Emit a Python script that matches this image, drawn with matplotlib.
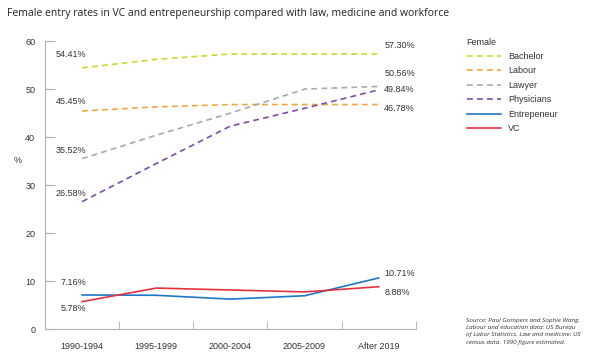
import matplotlib.pyplot as plt
from matplotlib.ticker import FixedLocator

periods = ['1990-1994', '1995-1999', '2000-2004', '2005-2009', 'After 2019']
bachelor = [54.41, 56.2, 57.3, 57.3, 57.30]
labour = [45.45, 46.3, 46.78, 46.78, 46.78]
lawyer = [35.52, 40.4, 45.0, 50.0, 50.56]
physicians = [26.58, 34.5, 42.3, 46.0, 49.84]
entrepreneur = [7.16, 7.1, 6.3, 7.0, 10.71]
vc = [5.78, 8.6, 8.2, 7.8, 8.88]

series = [
    ('Bachelor', bachelor, '#c9d92e', '--'),
    ('Labour', labour, '#f3a640', '--'),
    ('Lawyer', lawyer, '#a9a9a9', '--'),
    ('Physicians', physicians, '#7a4ea6', '--'),
    ('Entrepeneur', entrepreneur, '#1f77c9', '-'),
    ('VC', vc, '#e2333d', '-'),
]

plt.rcParams['font.family'] = ['Liberation Sans', 'DejaVu Sans']

fig = plt.figure(figsize=(6, 3.6), dpi=100)
ax = fig.add_axes([0.075, 0.085, 0.618, 0.801])

x = list(range(len(periods)))
for name, vals, col, ls in series:
    ax.plot(x, vals, ls, color=col, lw=1.2, label=name, dashes=(3.5, 2.5) if ls == '--' else (None, None))

# value labels at both ends
txt = dict(fontsize=6.5, color='#333333')
left_off = {'Bachelor': 10, 'Labour': 7, 'Lawyer': 6, 'Physicians': 6, 'Entrepeneur': 9, 'VC': -5}
right_off = {'Bachelor': 6, 'Labour': -3, 'Lawyer': 9, 'Physicians': 0, 'Entrepeneur': 3, 'VC': -4}
for name, vals, col, ls in series:
    ax.annotate(f'{vals[0]:.2f}%', (0, vals[0]), xytext=(3, left_off[name]),
                textcoords='offset points', ha='right', va='center', **txt)
    ax.annotate(f'{vals[-1]:.2f}%', (4, vals[-1]), xytext=(4, right_off[name]),
                textcoords='offset points', ha='left', va='center', **txt)

ax.set_xlim(-0.5, 4.5)
ax.set_ylim(0, 60)
ax.set_xticks(x)
ax.set_xticklabels(periods, fontsize=6.5, color='#333333')
ax.xaxis.set_minor_locator(FixedLocator([0.5, 1.5, 2.5, 3.5, 4.5]))
ax.tick_params(axis='x', which='major', length=0, pad=9)
ax.tick_params(axis='x', which='minor', length=6, direction='in', color='#b0b0b0')
ax.set_yticks(range(0, 61, 10))
ax.tick_params(axis='y', length=7, direction='in', color='#b0b0b0', labelsize=6.5,
               labelcolor='#333333', pad=7)
for s in ['top', 'right']:
    ax.spines[s].set_visible(False)
for s in ['left', 'bottom']:
    ax.spines[s].set_color('#b0b0b0')
ax.set_ylabel('%', rotation=0, fontsize=6.5, color='#333333', va='center', ha='center')
ax.yaxis.set_label_coords(-0.073, 0.587)

leg = ax.legend(loc='upper left', bbox_to_anchor=(1.115, 1.04), frameon=False, title='Female',
                fontsize=6.5, title_fontsize=6.5, handlelength=3.8, labelspacing=0.6,
                alignment='left')
leg.get_title().set_color('#333333')
for t in leg.get_texts():
    t.set_color('#333333')

fig.text(0.012, 0.963, 'Female entry rates in VC and entrepeneurship compared with law, medicine and workforce',
         fontsize=7.5, family='Open Sans', color='#222222', va='center')
fig.text(0.777, 1 - 318 / 360,
         'Source: Paul Gompers and Sophie Wang.\nLabour and education data: US Bureau\n'
         'of Labor Statistics. Law and medicine: US\ncensus data. 1990 figure estimated.',
         fontsize=4.6, family='Open Sans', style='italic', color='#333333', linespacing=1.55,
         va='top')

fig.savefig('out.png', dpi=100)
